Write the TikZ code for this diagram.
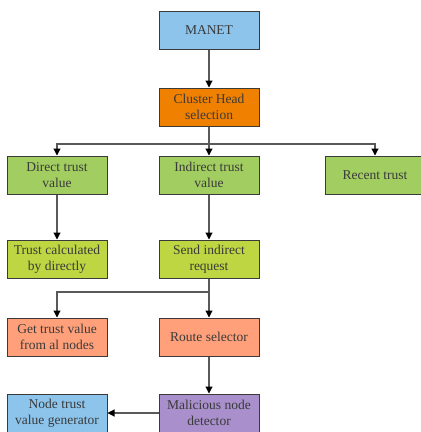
\documentclass[tikz,border=0pt]{standalone}
\usepackage{fontspec}
\setmainfont{Liberation Serif}
\usepackage{tikz}
\usetikzlibrary{arrows.meta,positioning}

\definecolor{skyblue}{HTML}{8CC4EC}
\definecolor{headorange}{HTML}{F08000}
\definecolor{leafgreen}{HTML}{A2CD60}
\definecolor{limegreen}{HTML}{BDD641}
\definecolor{salmon}{HTML}{FFA07A}
\definecolor{lilac}{HTML}{A98FCB}
\definecolor{inkgray}{HTML}{3A3A3A}

\begin{document}
\begin{tikzpicture}[
  x=1pt, y=1pt,
  font=\fontsize{13.5}{16}\selectfont,
  >={Triangle[length=7pt,width=7pt,color=black]},
  box/.style={draw=inkgray, line width=1pt, text=inkgray, align=center,
              minimum width=100pt, minimum height=38pt, inner sep=1pt},
  link/.style={->, draw=black!65, line width=1.1pt},
]
  \useasboundingbox (0,0) rectangle (421,-432);

  % top of the tree
  \node[box, fill=skyblue]    (manet)    at (209,-30)  {MANET};
  \node[box, fill=headorange] (chs)      at (209,-107) {Cluster Head\\selection};

  % trust kinds
  \node[box, fill=leafgreen]  (direct)   at (57,-175)  {Direct trust\\value};
  \node[box, fill=leafgreen]  (indirect) at (209,-175) {Indirect trust\\value};
  \node[box, fill=leafgreen]  (recent)   at (375,-175) {Recent trust};

  % calculation row
  \node[box, fill=limegreen]  (calc)     at (57,-259)  {Trust calculated\\by directly};
  \node[box, fill=limegreen]  (send)     at (209,-259) {Send indirect\\request};

  \node[box, fill=salmon]     (collect)  at (57,-337)  {Get trust value\\from al nodes};
  \node[box, fill=salmon]     (route)    at (209,-337) {Route selector};

  % detection
  \node[box, fill=lilac]      (detect)   at (209,-413) {Malicious node\\detector};
  \node[box, fill=skyblue]    (generate) at (57,-413)  {Node trust\\value generator};

  % connectors
  \draw[link] (manet) -- (chs);
  \coordinate (split) at (209,-144);
  \draw[line width=1.1pt, black!65] (chs.south) -- (split);
  \draw[link] (split) -| (direct.north);
  \draw[link] (split) -| (recent.north);
  \draw[link] (split) -- (indirect.north);
  \draw[link] (direct) -- (calc);
  \draw[link] (indirect) -- (send);
  \coordinate (fork) at (209,-292);
  \draw[line width=1.1pt, black!65] (send.south) -- (fork);
  \draw[link] (fork) -| (collect.north);
  \draw[link] (fork) -- (route.north);
  \draw[link] (route) -- (detect);
  \draw[link] (detect) -- (generate);
\end{tikzpicture}
\end{document}
